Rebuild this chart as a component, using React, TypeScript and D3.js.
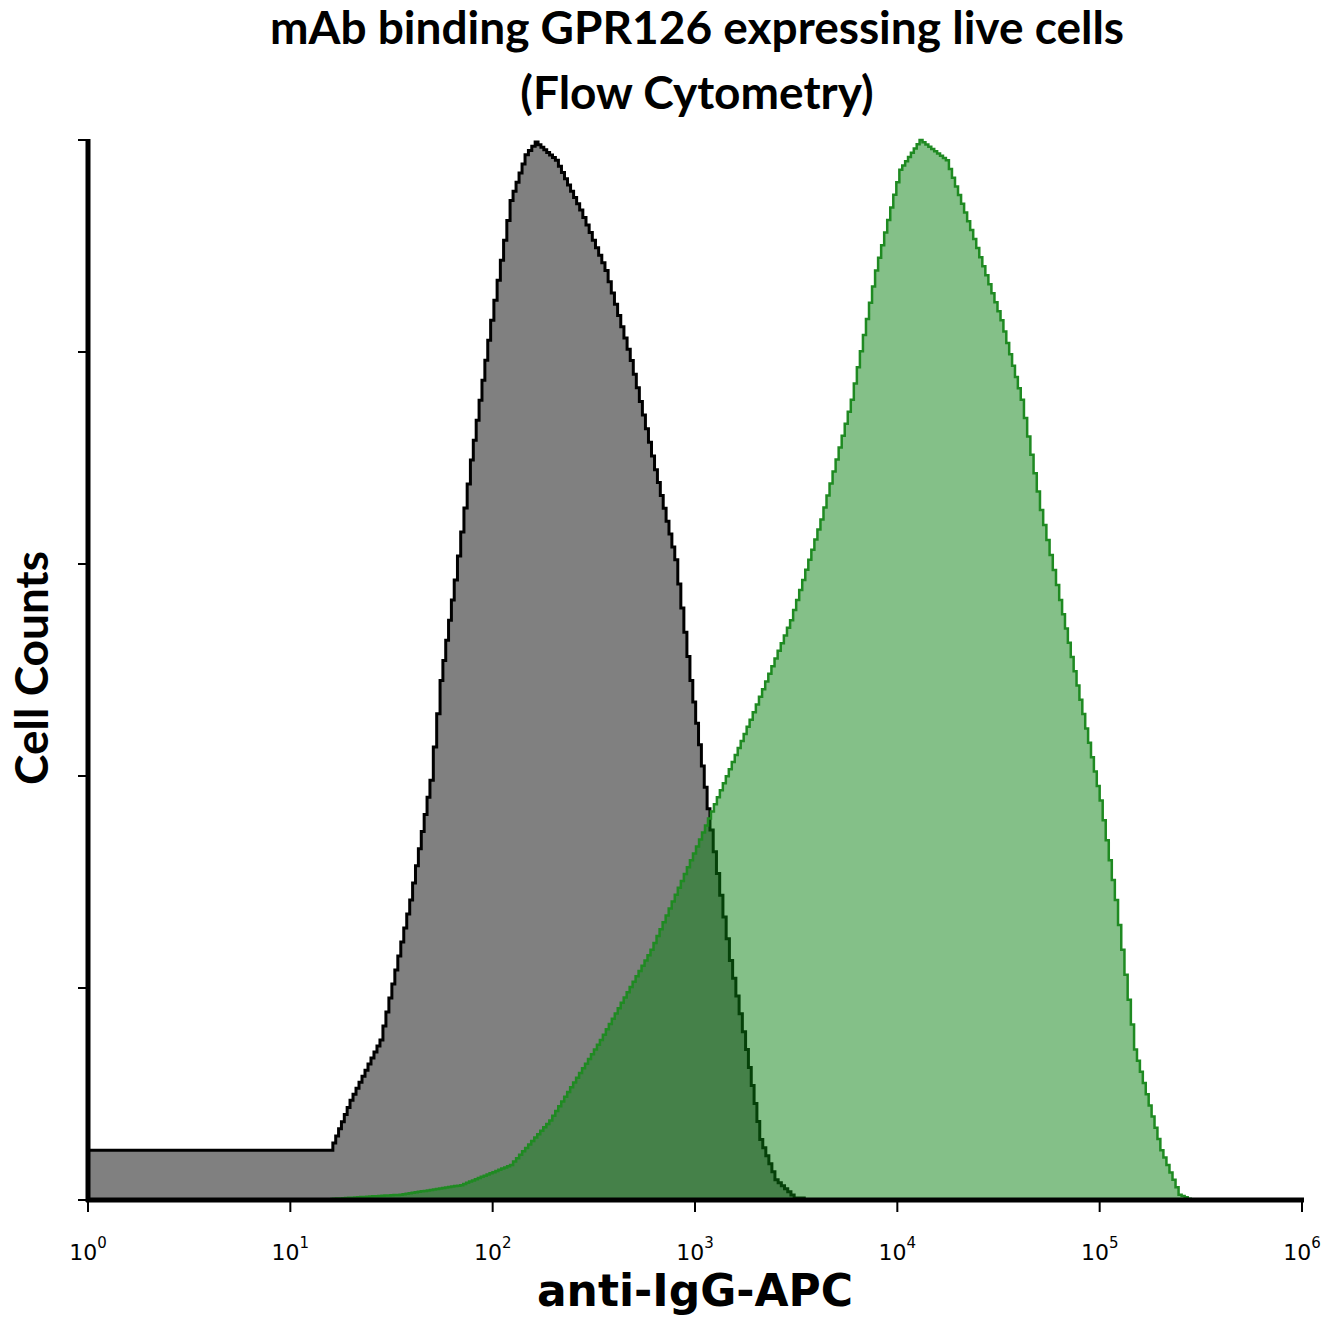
import React from "react";
import * as d3 from "d3";

const grayLog = [0, 1.196, 1.295, 1.443, 1.59, 1.69, 1.74, 1.81, 1.89, 1.99, 2.086, 2.16, 2.21, 2.31, 2.43, 2.555, 2.68, 2.8, 2.9, 2.975, 3.074, 3.17, 3.25, 3.32, 3.395, 3.49];
const grayCount = [4.7, 4.7, 9.4, 15.1, 28.3, 39.6, 49, 58.5, 69.8, 83, 94.3, 98.6, 99.8, 98.1, 93.4, 87.7, 79.2, 68.9, 60.4, 49, 34.9, 22.6, 14.2, 5.7, 1.9, 0.2];
const greenLog = [1.196, 1.54, 1.84, 2.086, 2.28, 2.53, 2.78, 3.02, 3.27, 3.47, 3.62, 3.77, 3.89, 4.01, 4.11, 4.24, 4.36, 4.51, 4.61, 4.705, 4.8, 4.9, 5.0, 5.075, 5.17, 5.3, 5.39, 5.45];
const greenCount = [0.1, 0.5, 1.4, 3.3, 7.5, 15.1, 23.6, 34, 45.3, 54.7, 64.2, 75.5, 87.7, 97.2, 100, 98.1, 91.5, 83, 75.5, 65.1, 56.6, 47.2, 37.7, 28.3, 14.2, 4.7, 0.5, 0];
const xTickExp = [0, 1, 2, 3, 4, 5, 6];
const yTicks = [0, 20, 40, 60, 80, 100];

export default function App() {
  const W = 1340, H = 1328;
  const x = d3.scaleLinear().domain([0, 6]).range([88, 1302]);
  const y = d3.scaleLinear().domain([0, 100]).range([1200, 140]);
  const area = d3.area<[number, number]>().x(d => x(d[0])).y0(y(0)).y1(d => y(d[1])).curve(d3.curveStepAfter);
  const line = d3.line<[number, number]>().x(d => x(d[0])).y(d => y(d[1])).curve(d3.curveStepAfter);
  const densify = (xs: number[], ys: number[]) => {
    const pts: [number, number][] = [];
    for (let i = 0; i < xs.length - 1; i++) {
      const n = Math.max(1, Math.round((x(xs[i + 1]) - x(xs[i])) / 3));
      for (let k = 0; k < n; k++) {
        const t = k / n;
        pts.push([xs[i] + (xs[i + 1] - xs[i]) * t, ys[i] + (ys[i + 1] - ys[i]) * t]);
      }
    }
    pts.push([xs[xs.length - 1], ys[ys.length - 1]]);
    return pts;
  };
  const g = densify(grayLog, grayCount);
  const gr = densify(greenLog, greenCount);
  const grayOutline = [...g, [grayLog[grayLog.length - 1] + 0.05, 0] as [number, number]];
  return (
    <svg width={W} height={H} style={{ display: "block", position: "absolute", left: 0, top: 0 }}>
      <rect width={W} height={H} fill="#fff" />
      <text x={697} y={44} textAnchor="middle" fontFamily="Lato, 'Open Sans', sans-serif" fontWeight="bold" fontSize={46}>mAb binding GPR126 expressing live cells</text>
      <text x={697} y={109} textAnchor="middle" fontFamily="Lato, 'Open Sans', sans-serif" fontWeight="bold" fontSize={46}>(Flow Cytometry)</text>
      <path d={area(g) || ""} fill="#808080" />
      <path d={line(grayOutline) || ""} fill="none" stroke="#000" strokeWidth={3} />
      <path d={area(gr) || ""} fill="rgb(9,129,17)" fillOpacity={0.5} />
      <path d={line(gr) || ""} fill="none" stroke="#1f8a22" strokeWidth={2.5} />
      <line x1={86} x2={1304} y1={1200} y2={1200} stroke="#000" strokeWidth={5} />
      <line x1={88} x2={88} y1={139} y2={1202} stroke="#000" strokeWidth={5} />
      {yTicks.map(t => <line key={t} x1={78} x2={88} y1={y(t)} y2={y(t)} stroke="#000" strokeWidth={2} />)}
      {xTickExp.map(e => (
        <g key={e}>
          <line x1={x(e)} x2={x(e)} y1={1200} y2={1212} stroke="#000" strokeWidth={2} />
          <text x={x(e)} y={1260} textAnchor="middle" fontFamily="'DejaVu Sans', sans-serif" fontSize={22}>
            10<tspan dy={-12} fontSize={15}>{e}</tspan>
          </text>
        </g>
      ))}
      <text x={695} y={1306} textAnchor="middle" fontFamily="'DejaVu Sans', sans-serif" fontWeight="bold" fontSize={44}>anti-IgG-APC</text>
      <text transform="translate(48,668) rotate(-90)" textAnchor="middle" fontFamily="Lato, 'Open Sans', sans-serif" fontWeight="bold" fontSize={46}>Cell Counts</text>
    </svg>
  );
}
